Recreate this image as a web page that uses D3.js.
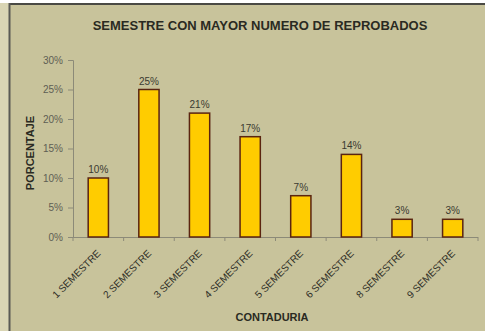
<!DOCTYPE html>
<html>
<head>
<meta charset="utf-8">
<script src="https://cdn.jsdelivr.net/npm/d3@7"></script>
<style>
  html, body { margin: 0; padding: 0; background: #ffffff; }
  svg { display: block; }
</style>
</head>
<body>
<svg id="chart" width="485" height="331"></svg>
<script>
// Semester categories and failure percentages
const categories = ["1 SEMESTRE", "2 SEMESTRE", "3 SEMESTRE", "4 SEMESTRE",
                    "5 SEMESTRE", "6 SEMESTRE", "8 SEMESTRE", "9 SEMESTRE"];
const values = [0.10, 0.25, 0.21, 0.17, 0.07, 0.14, 0.03, 0.03];
const yTicks = [0, 0.05, 0.10, 0.15, 0.20, 0.25, 0.30];

const titleText = "SEMESTRE CON MAYOR NUMERO DE REPROBADOS";
const yTitle = "PORCENTAJE";
const xTitle = "CONTADURIA";

const svg = d3.select("#chart");
const W = 485, H = 331;

// background panel with frame
svg.append("rect").attr("x", 0).attr("y", 0).attr("width", W).attr("height", H).attr("fill", "#d9d5b4");
svg.append("rect").attr("x", 10).attr("y", 5).attr("width", W - 10).attr("height", H - 5).attr("fill", "#c8c39b");
svg.append("rect").attr("x", 0).attr("y", 0).attr("width", W).attr("height", 3).attr("fill", "#ffffff");
svg.append("line").attr("x1", 9).attr("x2", W).attr("y1", 4).attr("y2", 4)
  .attr("stroke", "#4a4a44").attr("stroke-width", 2);
svg.append("line").attr("x1", 9.5).attr("x2", 9.5).attr("y1", 3).attr("y2", H)
  .attr("stroke", "#5a5a54").attr("stroke-width", 2);

const plot = { left: 73, right: 478, top: 60, bottom: 237 };

const x = d3.scaleBand().domain(categories).range([plot.left, plot.right]).paddingInner(0.6).paddingOuter(0.3);
const y = d3.scaleLinear().domain([0, 0.30]).range([plot.bottom, plot.top]);

const axisColor = "#8c8a78";
const fontFam = "Arial, 'Liberation Sans', sans-serif";

// title
svg.append("text")
  .attr("x", 260).attr("y", 30)
  .attr("text-anchor", "middle")
  .attr("font-family", fontFam).attr("font-weight", "bold").attr("font-size", 13)
  .attr("fill", "#2a2a22")
  .text(titleText);

// y axis
const yAxis = d3.axisLeft(y).tickValues(yTicks).tickFormat(d3.format(".0%")).tickSize(5).tickPadding(5);
const gy = svg.append("g").attr("transform", `translate(${plot.left},0)`).call(yAxis);
gy.select(".domain").attr("stroke", axisColor);
gy.selectAll(".tick line").attr("stroke", axisColor);
gy.selectAll(".tick text").attr("fill", "#5e5e54").attr("font-family", fontFam).attr("font-size", 10);

// x axis with ticks between categories
const boundaries = d3.range(categories.length + 1).map(i => plot.left + i * (plot.right - plot.left) / categories.length);
svg.append("line").attr("x1", plot.left).attr("x2", plot.right).attr("y1", plot.bottom + 0.5).attr("y2", plot.bottom + 0.5)
  .attr("stroke", axisColor);
svg.selectAll(".xtick").data(boundaries).join("line")
  .attr("class", "xtick")
  .attr("x1", d => d).attr("x2", d => d)
  .attr("y1", plot.bottom).attr("y2", plot.bottom + 4)
  .attr("stroke", axisColor);

// bars
svg.selectAll(".bar").data(values).join("rect")
  .attr("class", "bar")
  .attr("x", (d, i) => x(categories[i]))
  .attr("y", d => y(d))
  .attr("width", x.bandwidth())
  .attr("height", d => y(0) - y(d))
  .attr("fill", "#ffcc00")
  .attr("stroke", "#5a2410")
  .attr("stroke-width", 1.5);

// value labels
svg.selectAll(".val").data(values).join("text")
  .attr("class", "val")
  .attr("x", (d, i) => x(categories[i]) + x.bandwidth() / 2)
  .attr("y", d => y(d) - 5)
  .attr("text-anchor", "middle")
  .attr("font-family", fontFam).attr("font-size", 10)
  .attr("fill", "#3a3a30")
  .text(d => d3.format(".0%")(d));

// category labels rotated
svg.selectAll(".cat").data(categories).join("text")
  .attr("class", "cat")
  .attr("transform", d => `translate(${x(d) + x.bandwidth() / 2 + 3},${plot.bottom + 17}) rotate(-45)`)
  .attr("text-anchor", "end")
  .attr("font-family", fontFam).attr("font-size", 10)
  .attr("fill", "#2e2e26")
  .text(d => d);

// axis titles
svg.append("text")
  .attr("transform", `translate(34,153) rotate(-90)`)
  .attr("text-anchor", "middle")
  .attr("font-family", fontFam).attr("font-weight", "bold").attr("font-size", 11)
  .attr("fill", "#2a2a22")
  .text(yTitle);

svg.append("text")
  .attr("x", 272).attr("y", 321)
  .attr("text-anchor", "middle")
  .attr("font-family", fontFam).attr("font-weight", "bold").attr("font-size", 11)
  .attr("fill", "#2a2a22")
  .text(xTitle);
</script>
</body>
</html>
